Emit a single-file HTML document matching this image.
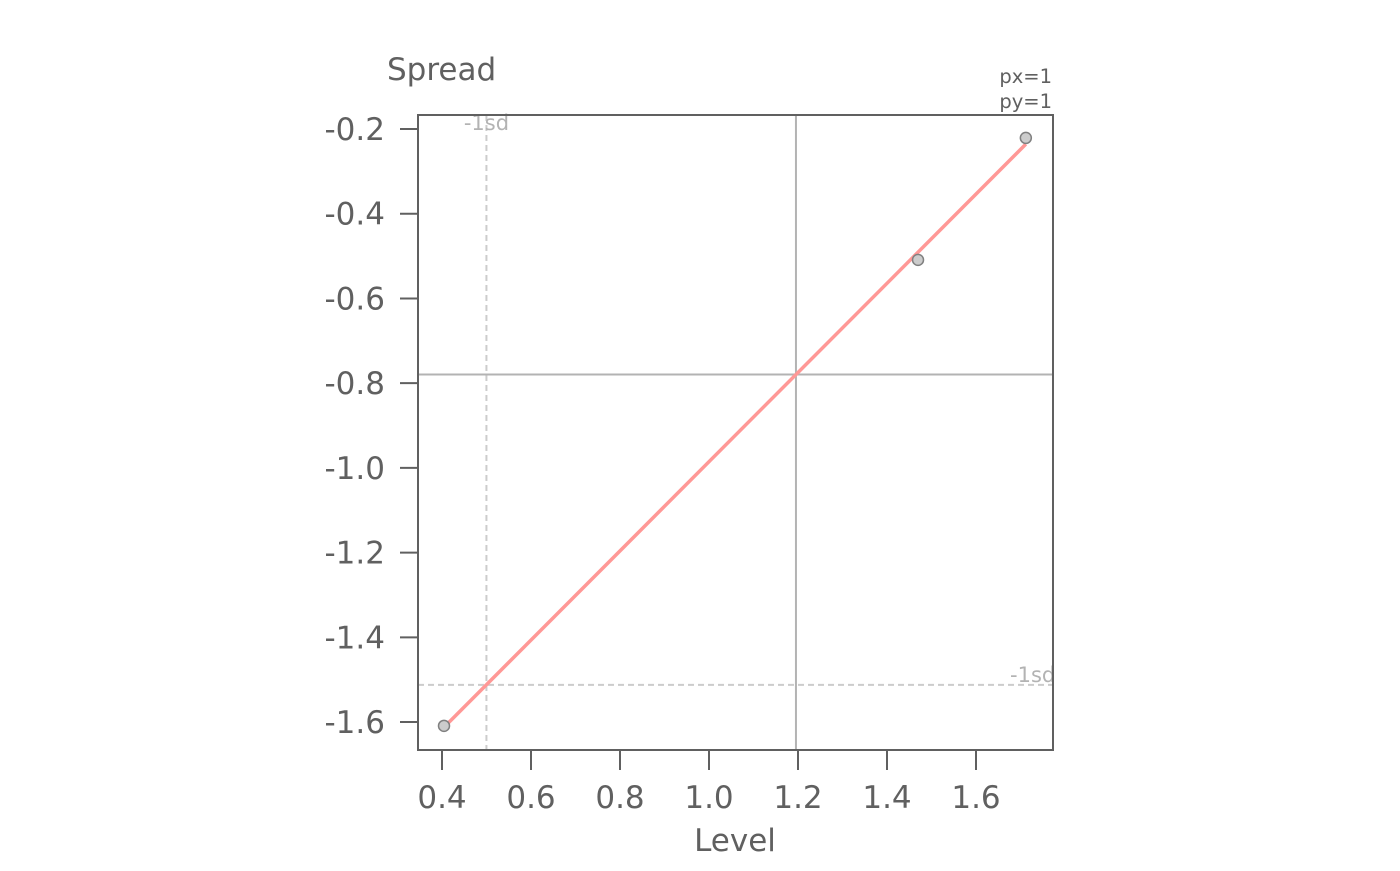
<!DOCTYPE html>
<html><head><meta charset="utf-8"><style>
body{margin:0;background:#fff}
svg text{font-family:"DejaVu Sans","Liberation Sans",sans-serif;fill:#606060}
</style></head><body>
<svg id="c" width="1400" height="866"></svg>
<script>
const xs=[0.4045,1.4697,1.712];
const ys=[-1.609,-0.509,-0.221];
const xTicks=[0.4,0.6,0.8,1.0,1.2,1.4,1.6];
const yTicks=[-0.2,-0.4,-0.6,-0.8,-1.0,-1.2,-1.4,-1.6];
const L=418,R=1053,T=115,B=750;
const X=v=>442+(v-0.4)*445;
const Y=v=>129+(-0.2-v)*423.6;
const svg=document.getElementById('c');const NS='http://www.w3.org/2000/svg';
function mk(t,a,p){const e=document.createElementNS(NS,t);for(const k in a)e.setAttribute(k,a[k]);(p||svg).appendChild(e);return e;}
const mean=a=>a.reduce((s,v)=>s+v,0)/a.length;
const sd=a=>{const m=mean(a);return Math.sqrt(a.reduce((s,v)=>s+(v-m)*(v-m),0)/(a.length-1));};
const mx=mean(xs),my=mean(ys),sx=sd(xs),sy=sd(ys);
let cov=0;xs.forEach((x,i)=>cov+=(x-mx)*(ys[i]-my));cov/=xs.length-1;
const slope=cov/(sx*sx),icp=my-slope*mx;
let e;
e=mk('line',{x1:X(mx-sx),x2:X(mx-sx),y1:T,y2:B,stroke:'#ccc','stroke-width':2,'stroke-dasharray':'6,4'});

e=mk('line',{x1:L,x2:R,y1:Y(my-sy),y2:Y(my-sy),stroke:'#ccc','stroke-width':2,'stroke-dasharray':'6,4'});

e=mk('line',{x1:X(mx),x2:X(mx),y1:T,y2:B,stroke:'#b3b3b3','stroke-width':2});

e=mk('line',{x1:L,x2:R,y1:Y(my),y2:Y(my),stroke:'#b3b3b3','stroke-width':2});

e=mk('text',{x:X(mx-sx),y:130,'font-size':21,'text-anchor':'middle',style:'fill:#b3b3b3'});e.textContent='-1sd';

const cp=mk('clipPath',{id:'cp'});mk('rect',{x:L,y:T,width:R-L,height:B-T},cp);
e=mk('text',{x:1010,y:682,'font-size':21,'clip-path':'url(#cp)',style:'fill:#b3b3b3'});e.textContent='-1sd';

const x0=Math.min(...xs),x1=Math.max(...xs);
e=mk('line',{x1:X(x0),y1:Y(icp+slope*x0),x2:X(x1),y2:Y(icp+slope*x1),stroke:'#ff9896','stroke-width':3.5});

xs.forEach((x,i)=>{const c=mk('circle',{cx:X(x),cy:Y(ys[i]),r:5.5,fill:'#cccccc',stroke:'#808080','stroke-width':1.5});
});
e=mk('rect',{x:L,y:T,width:R-L,height:B-T,fill:'none',stroke:'#606060','stroke-width':2});

xTicks.forEach(v=>{mk('line',{x1:X(v),x2:X(v),y1:B,y2:B+20,stroke:'#606060','stroke-width':2});
const t=mk('text',{x:X(v),y:808,'font-size':31,'text-anchor':'middle'});t.textContent=v.toFixed(1);
});
yTicks.forEach(v=>{mk('line',{x1:L-18,x2:L,y1:Y(v),y2:Y(v),stroke:'#606060','stroke-width':2});
const t=mk('text',{x:385,y:Y(v)+11,'font-size':31,'text-anchor':'end'});t.textContent=v.toFixed(1);
});
e=mk('text',{x:735,y:851,'font-size':31,'text-anchor':'middle'});e.textContent='Level';

e=mk('text',{x:387,y:80,'font-size':31});e.textContent='Spread';

e=mk('text',{x:1052,y:83,'font-size':19.5,'text-anchor':'end'});e.textContent='px=1';

e=mk('text',{x:1052,y:108,'font-size':19.5,'text-anchor':'end'});e.textContent='py=1';

</script>
</body></html>
